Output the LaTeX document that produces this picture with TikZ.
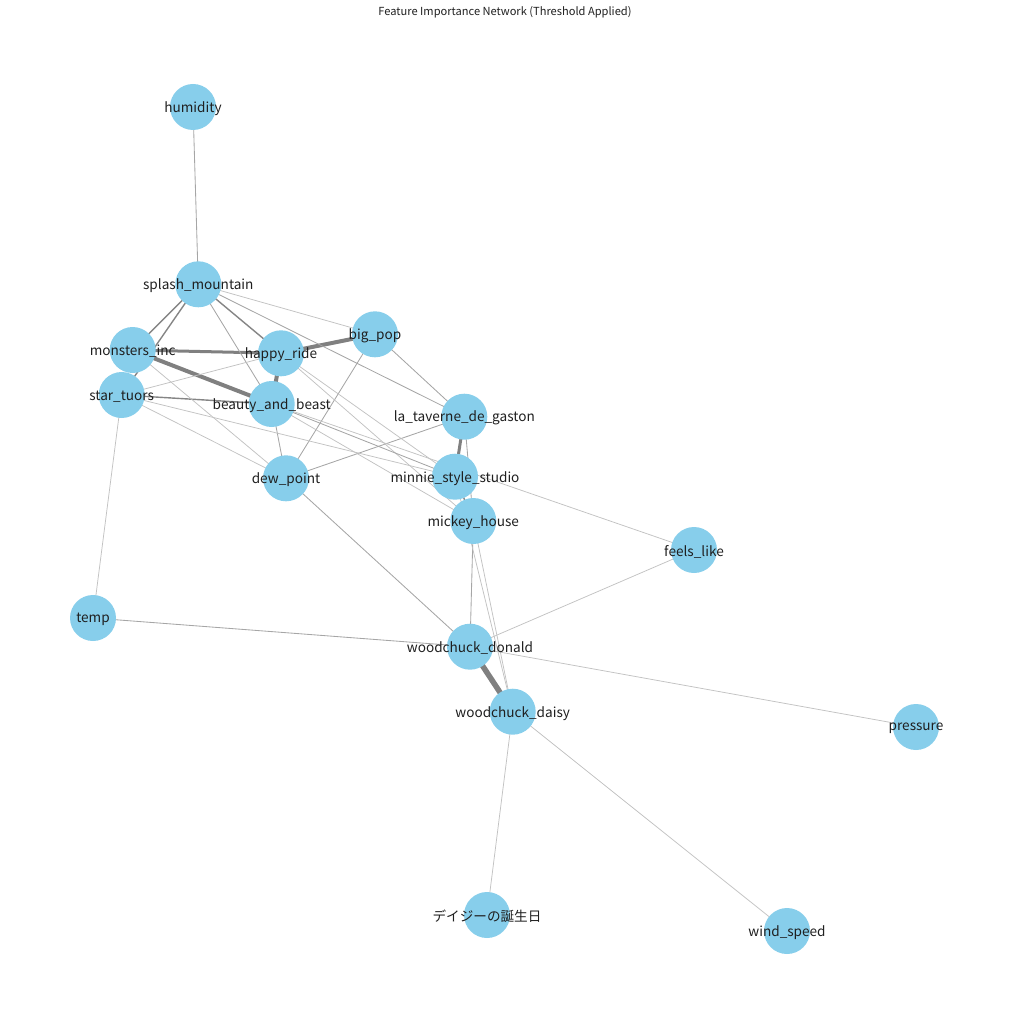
\documentclass[tikz,border=0pt]{standalone}
\usepackage{fontspec}
\setmainfont{Noto Sans CJK JP}
\usetikzlibrary{backgrounds}
\definecolor{skyblue}{HTML}{87CEEB}
\begin{document}
\begin{tikzpicture}[x=1pt,y=-1pt,
  vert/.style={circle,fill=skyblue,minimum size=46pt,inner sep=0pt},
  lbl/.style={font=\fontsize{13.6}{16}\selectfont,text=black!88,inner sep=0pt,yshift=-1.5pt},
  ttl/.style={font=\fontsize{11.1}{12}\selectfont,text=black!88,inner sep=0pt},
  ewt/.style={draw=black!50,line width=#1pt},
  emid/.style={draw=black!48,line width=1.4pt},
  ethin/.style={draw=black!35,line width=0.85pt},
  elight/.style={draw=black!24,line width=0.75pt}]
\useasboundingbox (0,0) rectangle (1010,1024);
\node[ttl] (title) at (505,12) {Feature Importance Network (Threshold Applied)};
% nodes
\node[vert] (hum) at (193,107) {};
\node[vert] (spl) at (198.3,284.3) {};
\node[vert] (mon) at (132.7,350) {};
\node[vert] (hap) at (281,353.3) {};
\node[vert] (big) at (375,334.3) {};
\node[vert] (sta) at (121.7,395) {};
\node[vert] (bea) at (271.7,404) {};
\node[vert] (tav) at (464.3,416.7) {};
\node[vert] (dew) at (286,478.3) {};
\node[vert] (min) at (455,476.7) {};
\node[vert] (mic) at (473.3,521) {};
\node[vert] (fee) at (694,550) {};
\node[vert] (tem) at (93,618) {};
\node[vert] (don) at (470,646.7) {};
\node[vert] (dai) at (512.7,711.7) {};
\node[vert] (pre) at (916,727) {};
\node[vert] (bir) at (487,915) {};
\node[vert] (win) at (787,931) {};
% edges
\begin{scope}[on background layer]
\draw[ewt=5.5] (don.center) -- (dai.center);
\draw[ewt=4] (hap.center) -- (big.center);
\draw[ewt=4] (mon.center) -- (bea.center);
\draw[ewt=4] (hap.center) -- (bea.center);
\draw[ewt=3] (mon.center) -- (hap.center);
\draw[ewt=3] (tav.center) -- (min.center);
\draw[emid] (spl.center) -- (hap.center);
\draw[emid] (spl.center) -- (mon.center);
\draw[emid] (spl.center) -- (sta.center);
\draw[emid] (sta.center) -- (bea.center);
\draw[emid] (min.center) -- (mic.center);
\draw[ethin] (hum.center) -- (spl.center);
\draw[ethin] (spl.center) -- (bea.center);
\draw[elight] (spl.center) -- (big.center);
\draw[ethin] (spl.center) -- (tav.center);
\draw[ethin] (big.center) -- (tav.center);
\draw[ethin] (big.center) -- (dew.center);
\draw[ethin] (dew.center) -- (tav.center);
\draw[ethin] (dew.center) -- (don.center);
\draw[ethin] (dew.center) -- (bea.center);
\draw[elight] (mon.center) -- (dew.center);
\draw[elight] (sta.center) -- (hap.center);
\draw[elight] (sta.center) -- (dew.center);
\draw[elight] (sta.center) -- (min.center);
\draw[elight] (sta.center) -- (tem.center);
\draw[elight] (hap.center) -- (min.center);
\draw[elight] (hap.center) -- (mic.center);
\draw[ethin] (bea.center) -- (min.center);
\draw[elight] (bea.center) -- (mic.center);
\draw[elight] (bea.center) -- (fee.center);
\draw[ethin] (tav.center) -- (mic.center);
\draw[ethin] (mic.center) -- (don.center);
\draw[elight] (mic.center) -- (dai.center);
\draw[elight] (min.center) -- (dai.center);
\draw[ethin] (tem.center) -- (don.center);
\draw[elight] (fee.center) -- (don.center);
\draw[elight] (don.center) -- (pre.center);
\draw[elight] (dai.center) -- (bir.center);
\draw[elight] (dai.center) -- (win.center);
\end{scope}
% labels
\node[lbl] (lhum) at (hum) {humidity};
\node[lbl] (lspl) at (spl) {splash\_mountain};
\node[lbl] (lmon) at (mon) {monsters\_inc};
\node[lbl] (lhap) at (hap) {happy\_ride};
\node[lbl] (lbig) at (big) {big\_pop};
\node[lbl] (lsta) at (sta) {star\_tuors};
\node[lbl] (lbea) at (bea) {beauty\_and\_beast};
\node[lbl] (ltav) at (tav) {la\_taverne\_de\_gaston};
\node[lbl] (ldew) at (dew) {dew\_point};
\node[lbl] (lmin) at (min) {minnie\_style\_studio};
\node[lbl] (lmic) at (mic) {mickey\_house};
\node[lbl] (lfee) at (fee) {feels\_like};
\node[lbl] (ltem) at (tem) {temp};
\node[lbl] (ldon) at (don) {woodchuck\_donald};
\node[lbl] (ldai) at (dai) {woodchuck\_daisy};
\node[lbl] (lpre) at (pre) {pressure};
\node[lbl] (lbir) at (bir) {デイジーの誕生日};
\node[lbl] (lwin) at (win) {wind\_speed};
\end{tikzpicture}
\end{document}
